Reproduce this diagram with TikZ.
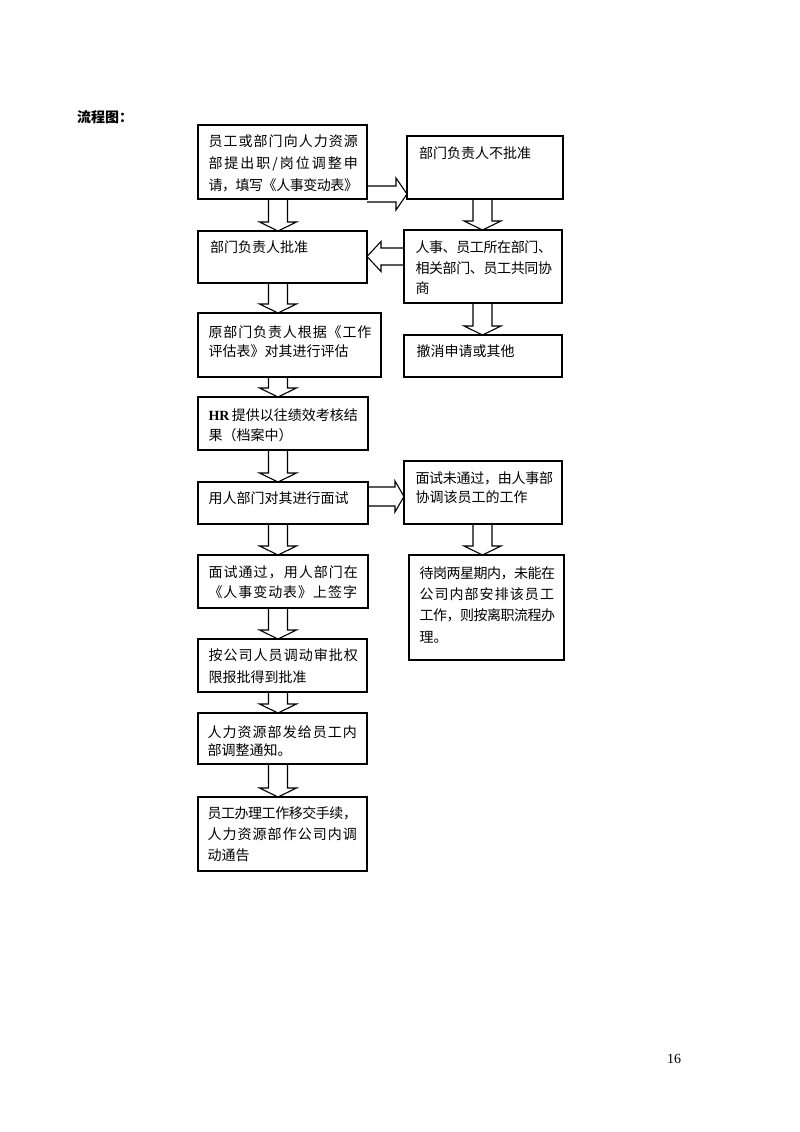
\documentclass[tikz,border=0pt]{standalone}
\usepackage{fontspec}
\setmainfont{Noto Sans CJK SC}
\newfontfamily\hrf{Liberation Serif}
\newfontfamily\numf{Liberation Serif}
\usetikzlibrary{calc,backgrounds}

\tikzset{
  box/.style={draw, line width=1.2pt, inner sep=0pt, outer sep=0pt},
  hol/.style={draw, fill=white, line width=1.1pt, line join=miter},
  txt/.style={inner sep=0pt, outer sep=0pt, anchor=base west},
}

% spread a line of characters to a given width
\def\spendm{\spend}
\def\sprA#1{#1\sprB}
\def\sprB#1{\def\sptmp{#1}\ifx\sptmp\spendm\else\hss#1\expandafter\sprB\fi}
\newcommand\J[2]{\leavevmode\hbox to #1pt{\sprA#2\spend}}

% box: name, x1, y1, x2, y2
\newcommand\bx[5]{\node[box, minimum width={(#4-#2)*1pt}, minimum height={(#5-#3)*1pt}] (#1) at ({(#2+#4)/2},{(#3+#5)/2}) {};}
% text: name, x, first line centre y, line spacing, content
\newcommand\tx[5]{\node[txt] (#1) at (#2,{#3+5.3}) {\parbox[t]{220pt}{\fontsize{14}{#4}\selectfont #5}};}
% downward hollow arrow: from, to, x coordinate
\newcommand\darr[3]{\draw[hol] let \p1=(#1.south -| #3), \p2=(#2.north -| #3) in
  (\x1-9.5pt,\y1) -- (\x1-9.5pt,\y2+9pt) -- (\x1-18.5pt,\y2+9pt) -- (\x2,\y2)
  -- (\x1+18.5pt,\y2+9pt) -- (\x1+9.5pt,\y2+9pt) -- (\x1+9.5pt,\y1);}
% rightward hollow arrow: from, to, y coordinate, shaft half, head half, head length
\newcommand\rarr[6]{\draw[hol] let \p1=(#1.east |- #3), \p2=(#2.west |- #3) in
  (\x1,\y1+#4pt) -- (\x2-#6pt,\y1+#4pt) -- (\x2-#6pt,\y1+#5pt) -- (\x2,\y1)
  -- (\x2-#6pt,\y1-#5pt) -- (\x2-#6pt,\y1-#4pt) -- (\x1,\y1-#4pt);}
% leftward hollow arrow
\newcommand\larr[6]{\draw[hol] let \p1=(#1.west |- #3), \p2=(#2.east |- #3) in
  (\x1,\y1+#4pt) -- (\x2+#6pt,\y1+#4pt) -- (\x2+#6pt,\y1+#5pt) -- (\x2,\y1)
  -- (\x2+#6pt,\y1-#5pt) -- (\x2+#6pt,\y1-#4pt) -- (\x1,\y1-#4pt);}

\begin{document}
\begin{tikzpicture}[x=1pt,y=-1pt]
\useasboundingbox (0,0) rectangle (800,1132);

% title and page number
\node[txt] (title) at (77,122.5) {\fontsize{14}{16}\selectfont\bfseries 流程图：};
\node[txt] (page) at (667,1063) {\numf\fontsize{14}{16}\selectfont 16};

% left column boxes
\bx{b1}{198}{125}{367}{199}
\bx{b2}{198}{231}{367}{283}
\bx{b3}{198}{313}{381}{377}
\bx{b4}{198}{397}{368}{450}
\bx{b5}{198}{482}{368}{524}
\bx{b6}{198}{555}{368}{608}
\bx{b7}{198}{639}{367}{692}
\bx{b8}{198}{713}{367}{764}
\bx{b9}{198}{797}{367}{871}
% right column boxes
\bx{r1}{407}{136}{563}{199}
\bx{r2}{404}{230}{562}{303}
\bx{r3}{404}{335}{562}{377}
\bx{r4}{404}{461}{562}{524}
\bx{r5}{409}{555}{564}{660}

% texts
\tx{t1}{208.5}{141}{22}{\J{149.5}{员工或部门向人力资源}\\\J{149.5}{部提出职/岗位调整申}\\\J{149.5}{请，填写《人事变动表》}}
\tx{t2}{210}{247}{22}{部门负责人批准}
\tx{t3}{208.5}{332}{19.5}{\J{163}{原部门负责人根据《工作}\\评估表》对其进行评估}
\tx{t4}{208.5}{415}{20}{\J{149.5}{{{\hrf\bfseries HR}}\,提供以往绩效考核结}\\果（档案中）}
\tx{t5}{208.5}{498}{20}{用人部门对其进行面试}
\tx{t6}{208.5}{572}{20}{\J{149.5}{面试通过，用人部门在}\\\J{148.5}{《人事变动表》上签字}}
\tx{t7}{208.5}{655}{22}{\J{149.5}{按公司人员调动审批权}\\限报批得到批准}
\tx{t8}{207.5}{732}{18.5}{\J{149.5}{人力资源部发给员工内}\\部调整通知。}
\tx{t9}{207.5}{813}{21}{\J{149.5}{员工办理工作移交手续，}\\\J{149.5}{人力资源部作公司内调}\\动通告}
\tx{s1}{419}{153}{22}{部门负责人不批准}
\tx{s2}{415.5}{247}{20.7}{\J{136.5}{人事、员工所在部门、}\\\J{136.5}{相关部门、员工共同协}\\商}
\tx{s3}{416.5}{351}{22}{撤消申请或其他}
\tx{s4}{415.5}{478}{19.5}{\J{137.5}{面试未通过，由人事部}\\协调该员工的工作}
\tx{s5}{419.5}{573}{21.3}{\J{135.5}{待岗两星期内，未能在}\\\J{134.5}{公司内部安排该员工}\\\J{135.5}{工作，则按离职流程办}\\理。}

% connector reference coordinates
\coordinate (cL) at (278,0);
\coordinate (cR) at (482.5,0);
\coordinate (hA) at (0,194);
\coordinate (hB) at (0,256.5);
\coordinate (hC) at (0,496.5);

\begin{scope}[on background layer]
  \fill[white] (0,0) rectangle (800,1132);
  \darr{b1}{b2}{cL}
  \darr{b2}{b3}{cL}
  \darr{b3}{b4}{cL}
  \darr{b4}{b5}{cL}
  \darr{b5}{b6}{cL}
  \darr{b6}{b7}{cL}
  \darr{b7}{b8}{cL}
  \darr{b8}{b9}{cL}
  \darr{r1}{r2}{cR}
  \darr{r2}{r3}{cR}
  \darr{r4}{r5}{cR}
  \rarr{b1}{r1}{hA}{8}{16}{11}
  \larr{r2}{b2}{hB}{8.5}{15}{14}
  \rarr{b5}{r4}{hC}{9.5}{15.5}{9}
\end{scope}
\end{tikzpicture}
\end{document}
